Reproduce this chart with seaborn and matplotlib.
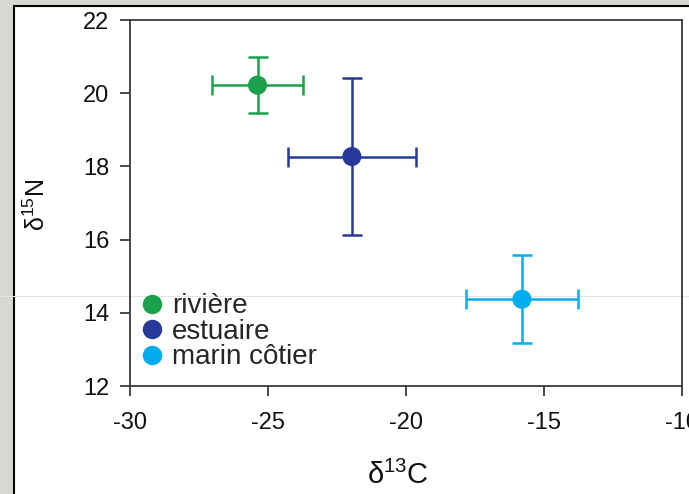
import matplotlib
matplotlib.use("Agg")
import matplotlib.pyplot as plt
from matplotlib.patches import Rectangle
from matplotlib.lines import Line2D
import seaborn as sns
import pandas as pd

# Data
groups = ["rivière", "estuaire", "marin côtier"]
d13C = [-25.38, -21.96, -15.8]
d13C_sd = [1.65, 2.32, 2.03]
d15N = [20.22, 18.27, 14.37]
d15N_sd = [0.77, 2.14, 1.2]
colors = ["#1ba04c", "#26399a", "#00aeef"]
x_ticks = [-30, -25, -20, -15, -10]
y_ticks = [12, 14, 16, 18, 20, 22]

sns.set_theme(style="white")
plt.rcParams["font.family"] = ["Liberation Sans", "DejaVu Sans"]
plt.rcParams["mathtext.fontset"] = "custom"
plt.rcParams["mathtext.rm"] = "Liberation Sans"
plt.rcParams["mathtext.it"] = "Liberation Sans"
plt.rcParams["mathtext.default"] = "rm"
plt.rcParams["axes.unicode_minus"] = False

fig = plt.figure(figsize=(6.89, 4.94), dpi=100)
fig.patch.set_facecolor("#d8d8d3")
# white panel with black border
fig.patches.append(Rectangle((14/689, -0.05), 1.0, 1 - 6/494 + 0.05,
                             transform=fig.transFigure, facecolor="white",
                             edgecolor="black", linewidth=1.5, zorder=-2))
# faint artifact line
fig.lines.append(Line2D([0, 1], [1 - 296/494, 1 - 296/494], transform=fig.transFigure,
                        color="#e4e4e4", linewidth=0.8, zorder=-1))

ax = fig.add_axes([130/689, 1 - 386/494, (682 - 130)/689, (386 - 20)/494])
ax.set_facecolor("none")

df = pd.DataFrame({"groupe": groups, "d13C": d13C, "d15N": d15N})
for g, x, y, xe, ye, c in zip(groups, d13C, d15N, d13C_sd, d15N_sd, colors):
    ax.errorbar(x, y, xerr=xe, yerr=ye, fmt="none", ecolor=c,
                elinewidth=1.8, capsize=7.5, capthick=1.8, zorder=2)
sns.scatterplot(data=df, x="d13C", y="d15N", hue="groupe", palette=colors,
                s=190, edgecolor="none", ax=ax, legend=False, zorder=3)

ax.set_xlim(-30, -10)
ax.set_ylim(12, 22)
ax.set_xticks(x_ticks)
ax.set_yticks(y_ticks)
ax.tick_params(axis="both", direction="out", length=7, width=1.3, color="#3a3a3a",
               labelsize=17, labelcolor="#111111", left=True, bottom=True)
ax.tick_params(axis="y", pad=8)
ax.tick_params(axis="x", pad=12)
for sp in ax.spines.values():
    sp.set_visible(True)
    sp.set_color("#3a3a3a")
    sp.set_linewidth(1.3)

ax.set_xlabel("δ$^{13}$C", fontsize=21, color="#111111", va="center")
ax.xaxis.set_label_coords((398 - 130) / 552, -(475 - 386) / 366)
ax.set_ylabel("δ$^{15}$N", fontsize=18, color="#111111", va="center")
ax.yaxis.set_label_coords(-(130 - 37) / 552, (386 - 205) / 366)

handles = [Line2D([0], [0], marker="o", linestyle="none", markersize=14,
                  markerfacecolor=c, markeredgecolor="none") for c in colors]
ax.legend(handles, groups, loc="lower left", bbox_to_anchor=(0.0, 0.02),
          frameon=False, fontsize=20, handletextpad=0.2, labelspacing=-0.02,
          borderaxespad=0.2, handlelength=1.0, borderpad=0.1)

fig.savefig("out.png", dpi=100, facecolor=fig.get_facecolor())
